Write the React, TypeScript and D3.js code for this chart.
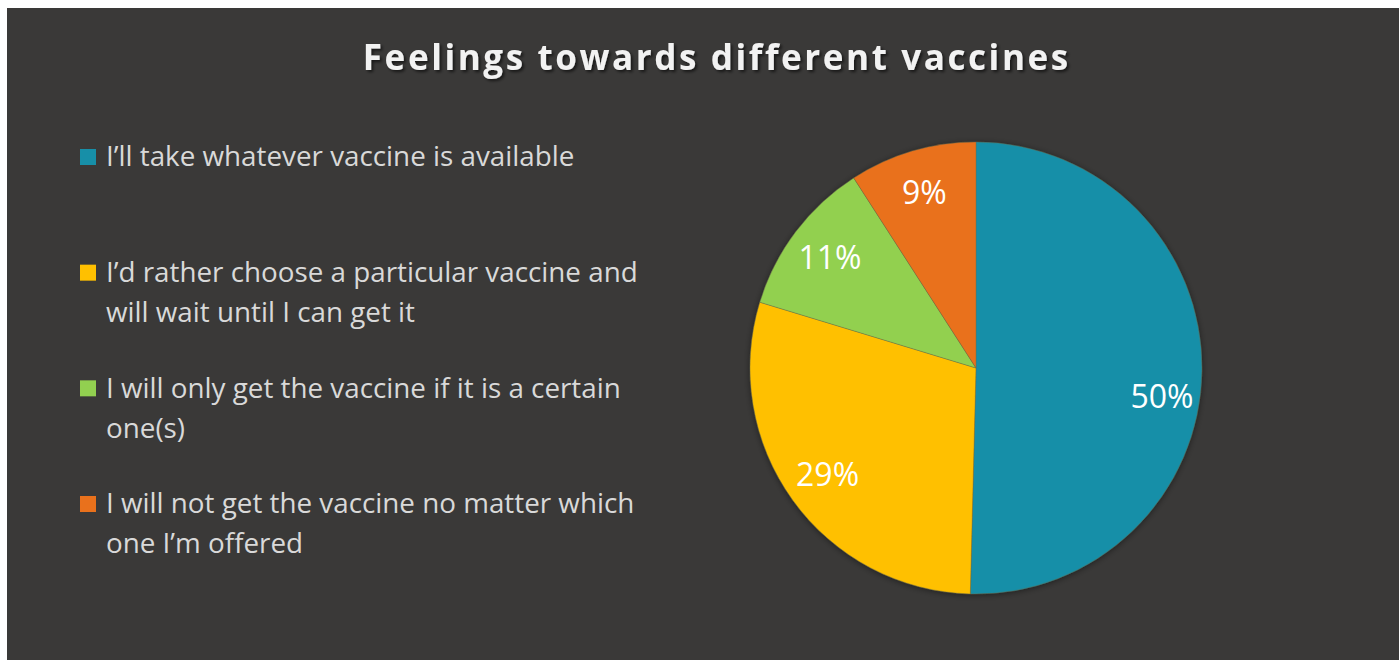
import React, { useEffect, useRef } from "react";
import * as d3 from "d3";

const title = "Feelings towards different vaccines";
const categories = [
  "I\u2019ll take whatever vaccine is available",
  "I\u2019d rather choose a particular vaccine and\nwill wait until I can get it",
  "I will only get the vaccine if it is a certain\none(s)",
  "I will not get the vaccine no matter which\none I\u2019m offered",
];
const values = [50.4, 29.3, 11.2, 9.1];
const colors = ["#178FA8", "#FFC000", "#92D050", "#E9711C"];

const FONT = "'Open Sans', Lato, sans-serif";

export default function App() {
  const ref = useRef<SVGSVGElement | null>(null);

  useEffect(() => {
    const svg = d3.select(ref.current);
    svg.selectAll("*").remove();
    const W = 1399, H = 660;

    const defs = svg.append("defs");
    const f1 = defs.append("filter").attr("id", "tshadow").attr("x", "-10%").attr("y", "-30%").attr("width", "120%").attr("height", "160%");
    f1.append("feDropShadow").attr("dx", 2).attr("dy", 2).attr("stdDeviation", 1.5).attr("flood-color", "#000").attr("flood-opacity", 0.6);
    const f2 = defs.append("filter").attr("id", "pshadow").attr("x", "-10%").attr("y", "-10%").attr("width", "120%").attr("height", "120%");
    f2.append("feDropShadow").attr("dx", 0).attr("dy", 1).attr("stdDeviation", 3).attr("flood-color", "#000").attr("flood-opacity", 0.45);

    svg.append("rect").attr("x", 7).attr("y", 8).attr("width", W - 7).attr("height", H - 8).attr("fill", "#3A3938");

    const ls = 2.6;
    svg.append("text")
      .attr("x", 715.5 + ls / 2).attr("y", 69.5)
      .attr("text-anchor", "middle")
      .attr("font-family", FONT)
      .attr("font-weight", 700)
      .attr("font-size", 35)
      .attr("letter-spacing", ls)
      .attr("fill", "#F2F2F2")
      .attr("filter", "url(#tshadow)")
      .text(title);

    // Legend
    const legendY = d3.scalePoint<number>().domain(d3.range(categories.length)).range([157, 504]);
    const lg = svg.append("g");
    categories.forEach((c, i) => {
      const y = legendY(i)!;
      lg.append("rect").attr("x", 80).attr("y", y - 8).attr("width", 16).attr("height", 16).attr("fill", colors[i]);
      const t = lg.append("text")
        .attr("font-family", FONT)
        .attr("font-size", 27.8)
        .attr("fill", "#D9D9D9");
      c.split("\n").forEach((line, j) => {
        t.append("tspan").attr("x", 106).attr("y", y + j * 40).attr("dy", "0.34em").text(line);
      });
    });

    // Pie
    const cx = 976, cy = 368, r = 226;
    const pie = d3.pie<number>().sort(null).value((d) => d);
    const arcs = pie(values);
    const arc = d3.arc<d3.PieArcDatum<number>>().innerRadius(0).outerRadius(r);
    const labelArc = d3.arc<d3.PieArcDatum<number>>().innerRadius(r * 0.81).outerRadius(r * 0.81);
    const g = svg.append("g").attr("transform", `translate(${cx},${cy})`);
    g.append("g").attr("filter", "url(#pshadow)")
      .selectAll("path").data(arcs).join("path")
      .attr("d", arc as any)
      .attr("fill", (_d, i) => colors[i])
      .attr("stroke", "#6b6b4a")
      .attr("stroke-width", 0.4);

    const total = d3.sum(values);
    g.selectAll("text.lbl").data(arcs).join("text")
      .attr("class", "lbl")
      .attr("transform", (d) => {
        const [x, y] = labelArc.centroid(d);
        const big = (d.endAngle - d.startAngle) > Math.PI * 0.9;
        return `translate(${x + (big ? 3 : 0)},${y + (big ? 26 : 0)})`;
      })
      .attr("text-anchor", "middle")
      .attr("dy", "0.35em")
      .attr("font-family", FONT)
      .attr("font-size", 32)
      .attr("fill", "#FFFFFF")
      .text((d) => `${Math.round((d.value / total) * 100)}%`);
  }, []);

  return (
    <svg ref={ref} width={1399} height={660} style={{ position: "absolute", left: 0, top: 0 }} />
  );
}
